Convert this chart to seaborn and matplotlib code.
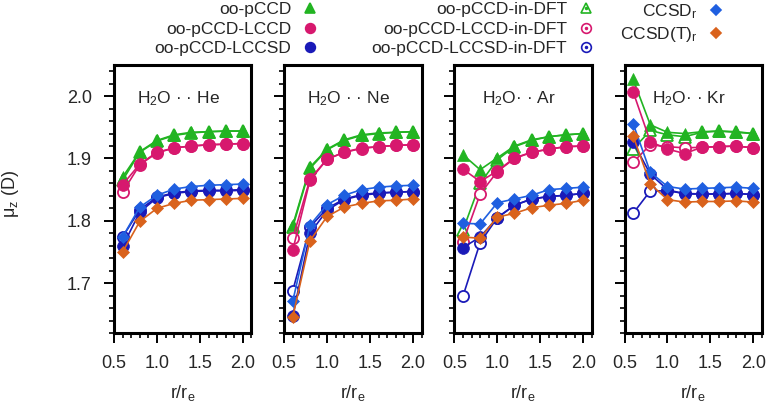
import matplotlib
matplotlib.use("Agg")
import matplotlib.pyplot as plt
import seaborn as sns
import numpy as np
from matplotlib.lines import Line2D
from matplotlib.ticker import MultipleLocator

r_re = [0.6, 0.8, 1.0, 1.2, 1.4, 1.6, 1.8, 2.0]
systems = ["He", "Ne", "Ar", "Kr"]
titles = ["H$_2$O · · He", "H$_2$O · · Ne", "H$_2$O· · Ar", "H$_2$O· · Kr"]

# dipole moments mu_z (D), one list per system
pccd = {
    "He": [1.870, 1.911, 1.929, 1.938, 1.942, 1.943, 1.944, 1.944],
    "Ne": [1.793, 1.886, 1.915, 1.930, 1.938, 1.941, 1.942, 1.943],
    "Ar": [1.906, 1.882, 1.901, 1.920, 1.930, 1.935, 1.938, 1.940],
    "Kr": [2.027, 1.954, 1.942, 1.940, 1.943, 1.944, 1.943, 1.940],
}
pccd_dft = {
    "He": [1.865, 1.910, 1.928, 1.937, 1.941, 1.943, 1.944, 1.944],
    "Ne": [1.790, 1.884, 1.914, 1.929, 1.937, 1.940, 1.942, 1.943],
    "Ar": [1.785, 1.860, 1.898, 1.919, 1.929, 1.935, 1.938, 1.940],
    "Kr": [1.915, 1.945, 1.938, 1.935, 1.942, 1.944, 1.942, 1.940],
}
lccd = {
    "He": [1.858, 1.891, 1.910, 1.917, 1.920, 1.922, 1.923, 1.924],
    "Ne": [1.753, 1.865, 1.899, 1.910, 1.917, 1.919, 1.921, 1.922],
    "Ar": [1.883, 1.863, 1.880, 1.901, 1.910, 1.915, 1.919, 1.920],
    "Kr": [2.007, 1.927, 1.915, 1.908, 1.918, 1.919, 1.920, 1.917],
}
lccd_dft = {
    "He": [1.846, 1.890, 1.909, 1.917, 1.920, 1.922, 1.923, 1.924],
    "Ne": [1.772, 1.867, 1.899, 1.910, 1.916, 1.919, 1.921, 1.922],
    "Ar": [1.766, 1.843, 1.879, 1.900, 1.910, 1.915, 1.919, 1.920],
    "Kr": [1.894, 1.922, 1.919, 1.917, 1.918, 1.919, 1.920, 1.917],
}
lccsd = {
    "He": [1.759, 1.814, 1.837, 1.844, 1.847, 1.848, 1.848, 1.849],
    "Ne": [1.647, 1.780, 1.817, 1.834, 1.841, 1.844, 1.846, 1.847],
    "Ar": [1.757, 1.774, 1.805, 1.825, 1.835, 1.839, 1.841, 1.844],
    "Kr": [1.926, 1.875, 1.850, 1.843, 1.843, 1.843, 1.844, 1.842],
}
lccsd_dft = {
    "He": [1.774, 1.818, 1.838, 1.845, 1.848, 1.849, 1.849, 1.850],
    "Ne": [1.688, 1.790, 1.820, 1.835, 1.842, 1.845, 1.846, 1.847],
    "Ar": [1.679, 1.765, 1.805, 1.825, 1.835, 1.839, 1.841, 1.844],
    "Kr": [1.812, 1.848, 1.848, 1.844, 1.843, 1.843, 1.844, 1.842],
}
ccsd_r = {
    "He": [1.774, 1.822, 1.841, 1.851, 1.855, 1.857, 1.858, 1.859],
    "Ne": [1.671, 1.793, 1.826, 1.841, 1.850, 1.854, 1.856, 1.857],
    "Ar": [1.796, 1.795, 1.829, 1.835, 1.841, 1.850, 1.852, 1.854],
    "Kr": [1.956, 1.878, 1.855, 1.851, 1.852, 1.853, 1.854, 1.852],
}
ccsdt_r = {
    "He": [1.750, 1.799, 1.820, 1.828, 1.833, 1.834, 1.835, 1.836],
    "Ne": [1.646, 1.768, 1.807, 1.822, 1.828, 1.832, 1.833, 1.835],
    "Ar": [1.774, 1.772, 1.806, 1.812, 1.821, 1.825, 1.828, 1.833],
    "Kr": [1.936, 1.859, 1.834, 1.830, 1.831, 1.831, 1.832, 1.830],
}

green = "#22b422"
magenta = "#d7186e"
dblue = "#1a1ab8"
lblue = "#1f5fe0"
orange = "#d9621c"

# (data, color, marker, filled, size)
series = [
    (pccd_dft, green, "^", False, 8),
    (pccd, green, "^", True, 8),
    (lccd_dft, magenta, "o", False, 8),
    (lccd, magenta, "o", True, 8.5),
    (lccsd_dft, dblue, "o", False, 8),
    (lccsd, dblue, "o", True, 8.5),
    (ccsd_r, lblue, "D", True, 6),
    (ccsdt_r, orange, "D", True, 6),
]

sns.set_style("ticks")
plt.rcParams["font.family"] = ["Liberation Sans", "DejaVu Sans"]
plt.rcParams["mathtext.default"] = "regular"

fig, axes = plt.subplots(1, 4, figsize=(7.76, 4.05), dpi=100, sharey=True)
fig.subplots_adjust(left=114 / 776, right=762 / 776, bottom=1 - 333 / 405,
                    top=1 - 65 / 405, wspace=0.238)

for ax, sysname, title in zip(axes, systems, titles):
    for data, col, mk, filled, ms in series:
        sns.lineplot(x=r_re, y=data[sysname], ax=ax, color=col, marker=mk,
                     markersize=ms, linewidth=1.2,
                     markerfacecolor=col if filled else "white",
                     markeredgecolor=col, markeredgewidth=1.3 if not filled else 0.5)
    ax.set_xlim(0.5, 2.1)
    ax.set_ylim(1.62, 2.05)
    ax.xaxis.set_major_locator(MultipleLocator(0.5))
    ax.xaxis.set_minor_locator(MultipleLocator(0.1))
    ax.yaxis.set_major_locator(MultipleLocator(0.1))
    ax.yaxis.set_minor_locator(MultipleLocator(0.02))
    ax.tick_params(which="major", direction="out", length=7, width=1.4,
                   labelsize=13, pad=9, color="black")
    ax.tick_params(which="minor", direction="out", length=3.5, width=1.2, color="black")
    for s in ax.spines.values():
        s.set_linewidth(2.2)
        s.set_color("black")
    ax.text(0.47, 0.875, title, transform=ax.transAxes, ha="center",
            va="center", fontsize=12.5)
    ax.set_xlabel("r/r$_e$", fontsize=13)
    ax.xaxis.set_label_coords(0.5, -0.185)
    ax.set_ylabel("")

axes[0].set_ylabel("μ$_z$ (D)", fontsize=13)
axes[0].yaxis.set_label_coords(-0.675, 0.52)
for ax in axes[1:]:
    ax.tick_params(labelleft=False)


def mk(marker, col, filled, ms=7):
    return Line2D([], [], linestyle="none", marker=marker, markersize=ms,
                  markerfacecolor=col if filled else "white", markeredgecolor=col,
                  markeredgewidth=1.2)


def dot(col):
    return Line2D([], [], linestyle="none", marker="o", markersize=1.5,
                  markerfacecolor=col, markeredgecolor=col)


legend_cols = [
    ([mk("^", green, True, 7), mk("o", magenta, True), mk("o", dblue, True)],
     ["oo-pCCD", "oo-pCCD-LCCD", "oo-pCCD-LCCSD"], 319),
    ([(mk("^", green, False, 7), dot(green)), (mk("o", magenta, False), dot(magenta)),
      (mk("o", dblue, False), dot(dblue))],
     ["oo-pCCD-in-DFT", "oo-pCCD-LCCD-in-DFT", "oo-pCCD-LCCSD-in-DFT"], 595),
    ([mk("D", lblue, True, 5.5), mk("D", orange, True, 5.5)],
     ["CCSD$_r$", "CCSD(T)$_r$"], 725),
]
for handles, labels, xr in legend_cols:
    fig.legend(handles, labels, loc="upper right", bbox_to_anchor=(xr / 776, 1 - 2 / 405),
               frameon=False, markerfirst=False, handlelength=1.0, handletextpad=0.6,
               borderpad=0, borderaxespad=0, labelspacing=0.25, fontsize=12.5)

fig.savefig("out.png", dpi=100)
